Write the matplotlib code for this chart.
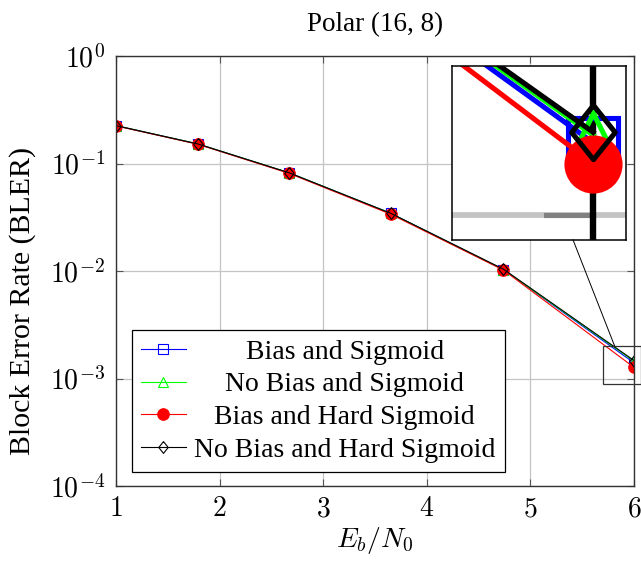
import matplotlib
matplotlib.use("Agg")
import matplotlib.pyplot as plt
from matplotlib.patches import Rectangle
from matplotlib.lines import Line2D
import numpy as np

plt.rcParams.update({
    "font.family": "serif",
    "font.serif": ["Liberation Serif", "DejaVu Serif"],
    "mathtext.fontset": "cm",
    "font.size": 19,
})

# data
ebn0 = [1.0, 1.79, 2.67, 3.65, 4.74, 6.0]
bler_bias_sig = [0.225, 0.152, 0.082, 0.0344, 0.0103, 0.00140]
bler_nobias_sig = [0.225, 0.152, 0.082, 0.0344, 0.0103, 0.00145]
bler_bias_hard = [0.224, 0.151, 0.081, 0.0338, 0.0102, 0.00127]
bler_nobias_hard = [0.225, 0.152, 0.082, 0.0345, 0.0104, 0.00147]

labels = ["Bias and Sigmoid", "No Bias and Sigmoid",
          "Bias and Hard Sigmoid", "No Bias and Hard Sigmoid"]
xticks = [1, 2, 3, 4, 5, 6]
yticks = [1e-4, 1e-3, 1e-2, 1e-1, 1e0]

# zoomed region (spy)
zoom_x = (5.70, 6.07)
zoom_y = (0.00089, 0.0020)

diamond = [(0, 1), (0.8, 0), (0, -1), (-0.8, 0), (0, 1)]
styles = [
    dict(color="blue", marker="s", mfc="none", ms=7.7),
    dict(color="#00ff00", marker="^", mfc="none", ms=7.0),
    dict(color="red", marker="o", mfc="red", ms=8.3),
    dict(color="black", marker=diamond, mfc="none", ms=8.5),
]
series = [bler_bias_sig, bler_nobias_sig, bler_bias_hard, bler_nobias_hard]

fig = plt.figure(figsize=(6.41, 5.61), dpi=100)
ax = fig.add_axes([116 / 641, 75 / 561, 518 / 641, 430 / 561])

for y, st, lab in zip(series, styles, labels):
    ax.plot(ebn0, y, lw=0.8, mew=0.8, label=lab, **st)

ax.set_yscale("log")
ax.set_xlim(1, 6)
ax.set_ylim(1e-4, 1)
ax.set_xticks(xticks)
ax.set_xticklabels([f"${t}$" for t in xticks])
ax.set_yticks(yticks)
ax.set_yticklabels([f"$10^{{{int(np.log10(t))}}}$" for t in yticks])
ax.yaxis.set_minor_locator(matplotlib.ticker.NullLocator())
ax.grid(True, color="#c4c4c4", lw=0.9)
ax.set_axisbelow(True)
ax.tick_params(direction="in", length=5, width=0.8, color="#555555",
               top=True, right=True, pad=8, labelsize=20)
for s in ax.spines.values():
    s.set_color("#333333")
    s.set_linewidth(1.0)

ax.set_title("Polar (16, 8)", pad=18, fontsize=19.5)
ax.set_xlabel("$E_b/N_0$", labelpad=2, fontsize=20)
ax.set_ylabel("Block Error Rate (BLER)", fontsize=21.5)
ax.yaxis.set_label_coords(-0.155, 0.43)

leg = ax.legend(loc="lower left", bbox_to_anchor=(0.031, 0.033), borderaxespad=0,
                fancybox=False, framealpha=1, edgecolor="black", fontsize=20,
                handlelength=1.6, handletextpad=0.3, labelspacing=0.26,
                borderpad=0.33)
leg.get_frame().set_linewidth(0.9)

# zoom rectangle on the main axes
rect = Rectangle((zoom_x[0], zoom_y[0]), zoom_x[1] - zoom_x[0], zoom_y[1] - zoom_y[0],
                 fill=False, ec="#333333", lw=0.9, clip_on=False, zorder=5)
ax.add_patch(rect)

# magnified inset
axins = fig.add_axes([452 / 641, 321 / 561, 174 / 641, 174 / 561])
mag = 4.6
axins.axhline(1e-3, color="#c4c4c4", lw=0.9 * mag, zorder=0)
tick_len = 0.1
axins.plot([6 - tick_len, 6], [1e-3, 1e-3], color="#808080", lw=0.8 * mag, zorder=1)
axins.axvline(6, color="black", lw=1.0 * mag, zorder=1)
for y, st in zip(series, styles):
    st2 = dict(st)
    st2["ms"] = st["ms"] * mag
    axins.plot(ebn0, y, lw=0.8 * mag, mew=0.8 * mag, **st2)
axins.set_yscale("log")
axins.set_xlim(*zoom_x)
axins.set_ylim(*zoom_y)
axins.set_xticks([])
axins.set_yticks([])
axins.minorticks_off()
for s in axins.spines.values():
    s.set_color("black")
    s.set_linewidth(1.1)

fig.canvas.draw()
renderer = fig.canvas.get_renderer()

# centre the legend labels like pgfplots
texts = leg.get_texts()
widths = [t.get_window_extent(renderer).width for t in texts]
wmax = max(widths)
for t, w in zip(texts, widths):
    t.set_x((wmax - w) / 2)

# connector line between the two box centres
ib = axins.get_window_extent(renderer)
c1 = np.array([(ib.x0 + ib.x1) / 2, (ib.y0 + ib.y1) / 2])
r0 = ax.transData.transform((zoom_x[0], zoom_y[0]))
r1 = ax.transData.transform((zoom_x[1], zoom_y[1]))
c2 = (r0 + r1) / 2
d = c2 - c1
p1 = c1 + d * (ib.y0 - c1[1]) / d[1]
p2 = c1 + d * (r1[1] - c1[1]) / d[1]
pts = fig.transFigure.inverted().transform([p1, p2])
fig.add_artist(Line2D(pts[:, 0], pts[:, 1], color="black", lw=0.7))

fig.savefig("out.png", dpi=100)
